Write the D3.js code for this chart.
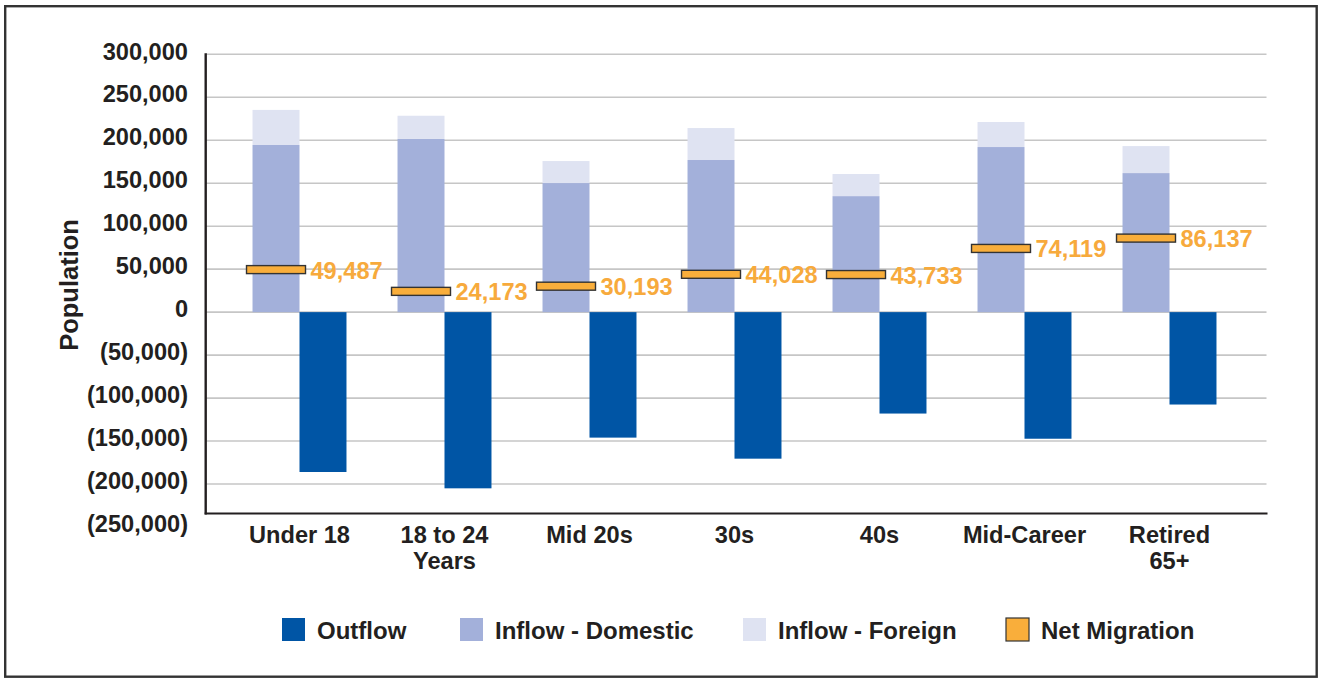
<!DOCTYPE html>
<html>
<head>
<meta charset="utf-8">
<script src="https://cdn.jsdelivr.net/npm/d3@7/dist/d3.min.js"></script>
<style>
  html, body { margin: 0; padding: 0; background: #fff; }
  svg { display: block; font-family: "Liberation Sans", Arial, Helvetica, sans-serif; }
</style>
</head>
<body>
<svg id="chart" width="1325" height="679"></svg>
<script>
// ---- Data ----
const categories = ["Under 18", "18 to 24\nYears", "Mid 20s", "30s", "40s", "Mid-Career", "Retired\n65+"];
const outflow = [-186000, -205000, -146000, -170500, -118000, -147300, -107500];
const inflowDomestic = [194500, 201500, 150200, 177000, 135000, 192100, 161800];
const inflowForeign = [40800, 27000, 25600, 37200, 25700, 29100, 31400];
const netMigration = [49487, 24173, 30193, 44028, 43733, 74119, 86137];
const yTicks = [300000, 250000, 200000, 150000, 100000, 50000, 0, -50000, -100000, -150000, -200000, -250000];
const legendItems = ["Outflow", "Inflow - Domestic", "Inflow - Foreign", "Net Migration"];

// ---- Style ----
const C = {
  outflow: "#0055A5",
  domestic: "#A3B0DA",
  foreign: "#DFE3F2",
  net: "#F9AE3B",
  netLabel: "#F7AA3C",
  text: "#231F20",
  grid: "#C6C6C6",
  axis: "#231F20"
};

const svg = d3.select("#chart");

// Frame
svg.append("rect").attr("x", 5.2).attr("y", 6.2).attr("width", 1311.5).attr("height", 670.5)
  .attr("fill", "none").attr("stroke", "#333").attr("stroke-width", 2.4);

// Scales
const y = d3.scaleLinear().domain([-250000, 300000]).range([527, 54.3]);
const x = d3.scaleBand().domain(categories).range([227, 1242]).padding(0);
const plotLeft = 205.7, plotRight = 1266.5;
const axisBottomY = 513.5;
const barW = x.bandwidth() * 0.324;
const fs = 23.6;

// Gridlines (above the bottom axis only)
svg.append("g").selectAll("line").data(yTicks.filter(t => y(t) < axisBottomY))
  .join("line")
  .attr("x1", plotLeft).attr("x2", plotRight)
  .attr("y1", d => y(d)).attr("y2", d => y(d))
  .attr("stroke", C.grid).attr("stroke-width", 1.6);

// Y tick labels
const fmt = d3.format(",");
svg.append("g").selectAll("text").data(yTicks).join("text")
  .attr("x", 188).attr("y", d => y(d) - 2.8)
  .attr("text-anchor", "end").attr("dominant-baseline", "central")
  .attr("font-size", fs).attr("font-weight", "bold").attr("fill", C.text)
  .text(d => d < 0 ? "(" + fmt(-d) + ")" : fmt(d));

// Y axis title
svg.append("text")
  .attr("transform", `translate(78,285) rotate(-90)`)
  .attr("text-anchor", "middle")
  .attr("font-size", 25.5).attr("font-weight", "bold").attr("fill", C.text)
  .text("Population");

const center = c => x(c) + x.bandwidth() / 2;

// Inflow domestic bars
svg.append("g").selectAll("rect").data(categories).join("rect")
  .attr("x", c => center(c) - barW)
  .attr("width", barW)
  .attr("y", (c, i) => y(inflowDomestic[i]))
  .attr("height", (c, i) => y(0) - y(inflowDomestic[i]))
  .attr("fill", C.domestic);

// Inflow foreign bars (stacked)
svg.append("g").selectAll("rect").data(categories).join("rect")
  .attr("x", c => center(c) - barW)
  .attr("width", barW)
  .attr("y", (c, i) => y(inflowDomestic[i] + inflowForeign[i]))
  .attr("height", (c, i) => y(inflowDomestic[i]) - y(inflowDomestic[i] + inflowForeign[i]))
  .attr("fill", C.foreign);

// Outflow bars
svg.append("g").selectAll("rect").data(categories).join("rect")
  .attr("x", c => center(c))
  .attr("width", barW)
  .attr("y", y(0))
  .attr("height", (c, i) => y(outflow[i]) - y(0))
  .attr("fill", C.outflow);

// Axes lines
svg.append("line").attr("x1", plotLeft).attr("x2", plotLeft)
  .attr("y1", y(300000) - 1).attr("y2", axisBottomY + 1)
  .attr("stroke", C.axis).attr("stroke-width", 2.4);
svg.append("line").attr("x1", plotLeft - 1).attr("x2", plotRight + 1)
  .attr("y1", axisBottomY).attr("y2", axisBottomY)
  .attr("stroke", C.axis).attr("stroke-width", 2.2);

// Net migration markers
const mW = barW + 12, mH = 8;
svg.append("g").selectAll("rect").data(categories).join("rect")
  .attr("x", c => center(c) - barW / 2 - mW / 2)
  .attr("y", (c, i) => y(netMigration[i]) - mH / 2)
  .attr("width", mW).attr("height", mH)
  .attr("fill", C.net).attr("stroke", "#333").attr("stroke-width", 1.4);

// Net migration labels
svg.append("g").selectAll("text").data(categories).join("text")
  .attr("x", c => center(c) - barW / 2 + mW / 2 + 5)
  .attr("y", (c, i) => y(netMigration[i]) + 1)
  .attr("dominant-baseline", "central")
  .attr("font-size", fs).attr("font-weight", "bold").attr("fill", C.netLabel)
  .text((c, i) => fmt(netMigration[i]));

// X labels
const xl = svg.append("g").selectAll("text").data(categories).join("text")
  .attr("x", c => center(c))
  .attr("y", 543)
  .attr("text-anchor", "middle")
  .attr("font-size", fs).attr("font-weight", "bold").attr("fill", C.text);
xl.each(function(c) {
  const lines = c.split("\n");
  d3.select(this).selectAll("tspan").data(lines).join("tspan")
    .attr("x", center(c)).attr("dy", (d, i) => i === 0 ? 0 : 26).text(d => d);
});

// Legend
const legendColors = [C.outflow, C.domestic, C.foreign, C.net];
const legendX = [282, 460, 743, 1006];
const lg = svg.append("g").selectAll("g").data(legendItems).join("g")
  .attr("transform", (d, i) => `translate(${legendX[i]},618)`);
lg.append("rect").attr("width", 23).attr("height", 23)
  .attr("fill", (d, i) => legendColors[i])
  .attr("stroke", (d, i) => i === 3 ? "#333" : "none").attr("stroke-width", 1.2);
lg.append("text").attr("x", 35).attr("y", 12)
  .attr("dominant-baseline", "central")
  .attr("font-size", 24).attr("font-weight", "bold").attr("fill", C.text)
  .text(d => d);
</script>
</body>
</html>
